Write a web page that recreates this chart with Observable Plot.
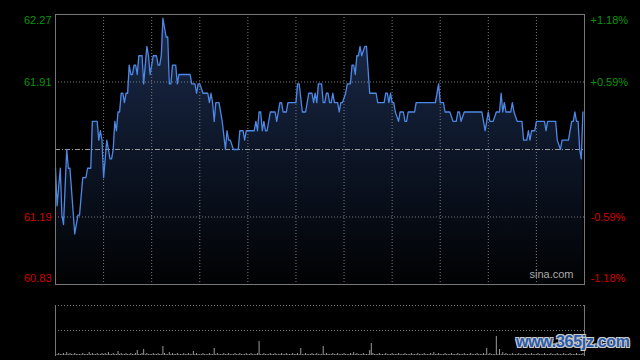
<!DOCTYPE html>
<html><head><meta charset="utf-8">
<script src="https://cdn.jsdelivr.net/npm/d3@7"></script>
<script src="https://cdn.jsdelivr.net/npm/@observablehq/plot@0.6"></script>
<style>
html,body{margin:0;padding:0;background:#000;}
#wrap{position:relative;width:640px;height:360px;background:#000;overflow:hidden;font-family:"Liberation Sans",Arial,sans-serif;}
#wrap svg{position:absolute;left:0;background:transparent;}
#wm{position:absolute;left:516px;top:333px;font:bold 16px "Liberation Sans",Arial,sans-serif;color:#2a5aa8;letter-spacing:-0.3px;
text-shadow:1px 1px 0 #ccc,-1px -1px 0 #ccc,1px -1px 0 #ccc,-1px 1px 0 #ccc;}
</style></head>
<body>
<div id="wrap"><div id="wm">www.365jz.com</div></div>
<script>
// minutes since open (HK session, 330 minutes) and price
const times = [0,1,3,4,5,7,8,9,12,14,15,17,19,20,22,23,26,27,28,29,30,31,32,34,35,36,37,38,39,40,41,42,43,44,45,46,47,48,49,50,51,52,54,55,57,58,59,60,61,63,64,65,66,67,69,70,71,72,73,75,76,77,84,85,87,88,89,90,92,95,96,97,98,99,100,102,104,106,107,108,109,111,114,115,117,118,119,124,125,126,127,128,129,130,131,132,134,137,138,140,141,142,144,145,150,151,152,154,156,158,160,161,162,163,164,166,167,168,169,170,171,172,173,174,176,177,178,179,181,182,184,185,186,187,188,189,190,191,193,194,196,200,201,205,206,207,208,209,210,211,212,214,215,217,218,219,220,224,225,237,239,240,242,243,246,248,250,251,252,253,255,266,267,268,269,270,271,273,275,277,278,279,280,281,284,285,286,288,291,292,294,295,296,297,299,300,305,306,307,312,313,315,316,320,322,323,324,325,326,327,328,329];
const prices = [61.45,61.25,61.45,61.20,61.15,61.55,61.45,61.45,61.10,61.20,61.20,61.40,61.40,61.45,61.45,61.70,61.70,61.60,61.65,61.60,61.40,61.50,61.60,61.50,61.50,61.55,61.70,61.65,61.75,61.75,61.85,61.85,61.80,61.85,61.85,62.00,61.95,61.95,62.00,62.00,61.95,62.05,62.05,61.90,62.10,62.05,61.95,62.00,62.05,62.05,62.00,62.00,62.05,62.25,62.15,62.15,61.90,61.90,62.00,62.00,61.90,61.95,61.95,61.90,61.90,61.85,61.90,61.90,61.85,61.85,61.80,61.85,61.80,61.70,61.80,61.80,61.70,61.55,61.65,61.60,61.60,61.55,61.55,61.65,61.65,61.60,61.65,61.65,61.70,61.65,61.75,61.75,61.65,61.70,61.65,61.65,61.75,61.75,61.70,61.80,61.80,61.75,61.75,61.80,61.80,61.90,61.90,61.75,61.75,61.85,61.85,61.80,61.85,61.80,61.90,61.90,61.80,61.80,61.85,61.85,61.80,61.80,61.85,61.80,61.80,61.75,61.80,61.80,61.85,61.90,61.90,62.00,62.00,61.95,62.05,62.05,62.10,62.05,62.10,62.10,61.85,61.85,61.80,61.80,61.85,61.85,61.80,61.85,61.80,61.80,61.75,61.70,61.75,61.75,61.70,61.70,61.75,61.75,61.80,61.80,61.90,61.80,61.80,61.75,61.75,61.70,61.70,61.75,61.75,61.70,61.75,61.75,61.70,61.65,61.70,61.75,61.70,61.70,61.75,61.75,61.85,61.75,61.80,61.75,61.75,61.80,61.75,61.70,61.70,61.60,61.60,61.65,61.60,61.65,61.65,61.70,61.70,61.65,61.70,61.70,61.60,61.55,61.60,61.60,61.70,61.70,61.75,61.70,61.70,61.55,61.50,61.75];
// per-minute volume (relative units)
const volumes = [
8,1,2,1,1,2,1,3,1,2,1,1,2,1,1,1,1,2,1,1,1,3,1,2,1,1,2,1,1,2,
1,2,1,3,1,1,2,1,1,4,1,2,1,1,2,1,1,2,1,1,2,5,1,1,2,6,1,2,1,1,
1,2,1,1,2,1,1,9,2,1,1,3,1,2,1,1,2,1,1,1,2,1,1,2,1,1,4,1,2,1,
1,1,2,1,1,1,2,1,1,7,1,2,1,1,1,2,1,1,2,1,1,1,2,1,1,2,1,1,1,2,
1,1,2,1,1,1,2,14,1,1,2,1,1,1,2,1,1,2,1,1,1,2,1,1,2,1,1,1,2,1,
1,2,1,7,1,1,2,1,1,1,2,1,1,2,1,1,1,9,1,2,1,1,1,2,1,1,2,1,1,1,
2,1,1,1,2,1,3,1,2,1,1,1,2,1,1,1,5,12,2,1,1,1,2,1,1,1,2,1,1,1,
2,1,1,1,2,1,1,1,2,1,1,1,2,1,1,1,2,1,1,1,2,1,1,1,2,1,3,1,1,2,
1,1,1,2,1,1,1,2,1,1,1,2,1,1,1,2,1,1,1,2,1,1,1,2,1,1,1,2,1,7,
1,2,1,1,1,19,1,6,1,3,1,2,1,1,1,2,1,1,1,2,1,1,1,2,1,1,1,2,1,1,
1,2,1,1,1,2,1,1,1,2,1,1,1,2,1,1,1,2,1,1,1,2,1,1,1,2,1,1,1,2,3];
const prevClose = 61.55;
const priceTop = 62.27, priceBottom = 60.83;
const leftLabels = ["62.27","61.91","61.19","60.83"];
const leftValues = [62.27, 61.91, 61.19, 60.83];
const rightLabels = ["+1.18%","+0.59%","-0.59%","-1.18%"];
const gridPrices = [61.91, 61.19];
const gridTimes = [30,60,90,120,150,180,210,240,270,300];
const volTicks = [25, 50];

const series = times.map((t,i)=>({t, p: prices[i]}));
const labelRows = leftValues.map((v,i)=>({v, l: leftLabels[i], r: rightLabels[i], i}));
const up = "#0a960a", down = "#d40000";
const labelMarks = [];
labelRows.forEach(d => {
  const dy = d.i === 0 ? 6 : d.i === 3 ? -6 : 0;
  const fill = d.i < 2 ? up : down;
  labelMarks.push(Plot.text([d], {y: "v", text: "l", frameAnchor: "left", textAnchor: "end", dx: -4, dy, fill}));
  labelMarks.push(Plot.text([d], {y: "v", text: "r", frameAnchor: "right", textAnchor: "start", dx: 6, dy, fill}));
});

const font = "'Liberation Sans', Arial, sans-serif";
const pricePlot = Plot.plot({
  width: 640, height: 290,
  marginTop: 14, marginBottom: 6, marginLeft: 55, marginRight: 56,
  x: {domain: [0, 330], axis: null},
  y: {domain: [priceBottom, priceTop], axis: null},
  style: {background: "transparent", fontFamily: font, fontSize: "11px"},
  marks: [
    Plot.areaY(series, {x: "t", y1: priceBottom, y2: "p", fill: "url(#pgrad)"}),
    Plot.ruleY(gridPrices, {stroke: "#7a7a7a", strokeDasharray: "1,2"}),
    Plot.ruleX(gridTimes, {stroke: "#7a7a7a", strokeDasharray: "1,2"}),
    Plot.ruleY([prevClose], {stroke: "#9a9a9a", strokeDasharray: "5,2,1,2"}),
    Plot.line(series, {x: "t", y: "p", stroke: "#4d88e6", strokeWidth: 1.3}),
    Plot.frame({stroke: "#777"}),
    ...labelMarks,
    Plot.text(["sina.com"], {frameAnchor: "bottom-right", textAnchor: "end", dx: -11, dy: -7, fill: "#aaa", fontSize: 11})
  ]
});
const svg = d3.select(pricePlot);
const defs = svg.insert("defs", ":first-child");
const g = defs.append("linearGradient").attr("id", "pgrad").attr("x1", 0).attr("y1", 0).attr("x2", 0).attr("y2", 1);
g.append("stop").attr("offset", "0%").attr("stop-color", "#1b2b4b");
g.append("stop").attr("offset", "55%").attr("stop-color", "#0c1424");
g.append("stop").attr("offset", "100%").attr("stop-color", "#010203");
pricePlot.style.top = "0px";

const volData = volumes.map((v,i)=>({m: i, v}));
const volPlot = Plot.plot({
  width: 640, height: 70,
  marginTop: 15, marginBottom: 5, marginLeft: 55, marginRight: 56,
  x: {domain: [0, 330], axis: null},
  y: {domain: [0, 50], axis: null},
  style: {background: "transparent"},
  marks: [
    Plot.ruleY(volTicks, {stroke: "#7a7a7a", strokeDasharray: "1,2"}),
    Plot.ruleX(volData, {x: "m", y1: 0, y2: "v", stroke: "#9a9a9a"}),
    Plot.frame({anchor: "left", stroke: "#777"}),
    Plot.frame({anchor: "right", stroke: "#777"})
  ]
});
volPlot.style.top = "290px";
const wrap = document.getElementById("wrap");
wrap.insertBefore(volPlot, wrap.firstChild);
wrap.insertBefore(pricePlot, wrap.firstChild);
</script>
</body></html>
